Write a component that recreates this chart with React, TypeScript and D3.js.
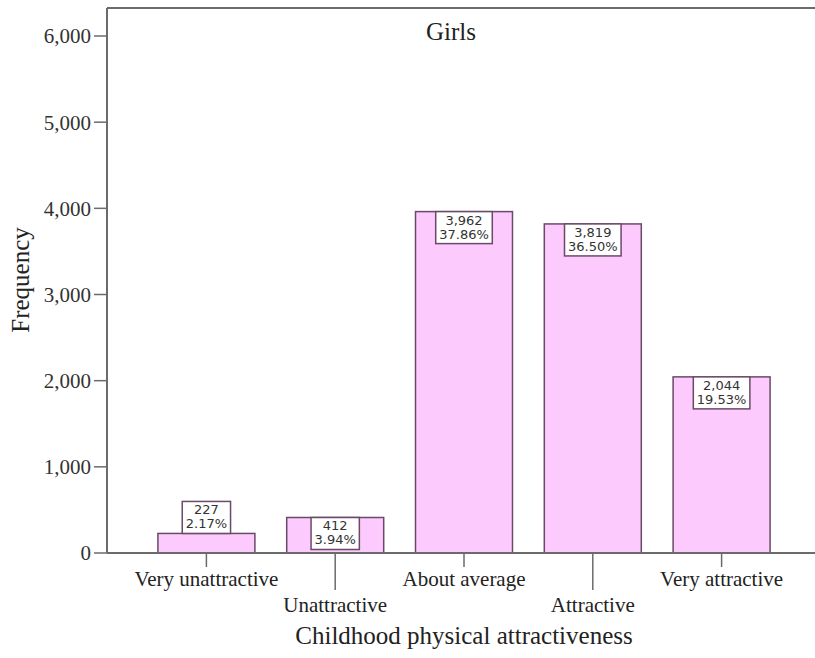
import React from "react";
import * as d3 from "d3";

const categories = ["Very unattractive", "Unattractive", "About average", "Attractive", "Very attractive"];
const frequencies = [227, 412, 3962, 3819, 2044];
const percentLabels = ["2.17%", "3.94%", "37.86%", "36.50%", "19.53%"];
const yTicks = [0, 1000, 2000, 3000, 4000, 5000, 6000];

const W = 815;
const H = 658;
const axisX = 107;
const axisY = 553;
const topY = 8;

const measureCtx: any = typeof document !== "undefined" ? document.createElement("canvas").getContext("2d") : null;
function textW(t: string, font: string) {
  if (!measureCtx) return t.length * 7;
  measureCtx.font = font;
  return measureCtx.measureText(t).width;
}

export default function App() {
  const y = d3.scaleLinear().domain([0, 6000]).range([axisY, 36]);
  const x = d3.scaleBand<string>().domain(categories).range([142, 786]).paddingInner(0.247).paddingOuter(0.1235);
  const fmt = d3.format(",");
  const serif = "'Liberation Serif', 'Times New Roman', serif";
  const boxFont = "13px 'DejaVu Sans'";
  const barFill = "#fccafc";
  const barStroke = "#6a4a68";
  const axisColor = "#6b6b6b";

  return (
    <svg width={W} height={H} style={{ position: "absolute", left: 0, top: 0, background: "#fff" }}>
      <rect x={0} y={0} width={W} height={H} fill="#fff" />
      {categories.map((c, i) => {
        const x0 = x(c)!;
        const bw = x.bandwidth();
        const top = y(frequencies[i]);
        return (
          <rect key={c} x={x0} y={top} width={bw} height={axisY - top} fill={barFill} stroke={barStroke} strokeWidth={1.5} />
        );
      })}
      <line x1={axisX} x2={W} y1={topY} y2={topY} stroke={axisColor} strokeWidth={2} />
      <line x1={axisX} x2={axisX} y1={topY} y2={axisY} stroke={axisColor} strokeWidth={2} />
      <line x1={axisX} x2={W} y1={axisY} y2={axisY} stroke={axisColor} strokeWidth={2} />
      {yTicks.map((t) => (
        <g key={t}>
          <line x1={94} x2={axisX} y1={y(t)} y2={y(t)} stroke={axisColor} strokeWidth={1.5} />
          <text x={91} y={y(t)} dy="0.35em" textAnchor="end" fontFamily={serif} fontSize={21} fill="#333">
            {fmt(t)}
          </text>
        </g>
      ))}
      {categories.map((c, i) => {
        const cx = x(c)! + x.bandwidth() / 2;
        const low = i % 2 === 1;
        return (
          <g key={c}>
            <line x1={cx} x2={cx} y1={axisY} y2={low ? 590 : 567} stroke={axisColor} strokeWidth={1.5} />
            <text x={cx} y={low ? 612 : 586} textAnchor="middle" fontFamily={serif} fontSize={21} fill="#222">
              {c}
            </text>
          </g>
        );
      })}
      {categories.map((c, i) => {
        const cx = x(c)! + x.bandwidth() / 2;
        const l1 = fmt(frequencies[i]);
        const l2 = percentLabels[i];
        const tw = Math.max(textW(l1, boxFont), textW(l2, boxFont));
        const bwid = tw + 7;
        const bh = 32;
        const top = y(frequencies[i]);
        const by = axisY - top < bh ? top - bh : top;
        return (
          <g key={c}>
            <rect x={cx - bwid / 2} y={by} width={bwid} height={bh} fill="#fff" stroke={barStroke} strokeWidth={1.5} />
            <text x={cx} y={by + 13} textAnchor="middle" fontFamily="'DejaVu Sans', sans-serif" fontSize={13} fill="#333">
              {l1}
            </text>
            <text x={cx} y={by + 27} textAnchor="middle" fontFamily="'DejaVu Sans', sans-serif" fontSize={13} fill="#333">
              {l2}
            </text>
          </g>
        );
      })}
      <text x={451} y={40} textAnchor="middle" fontFamily={serif} fontSize={25} fill="#222">Girls</text>
      <text x={464} y={644} textAnchor="middle" fontFamily={serif} fontSize={25} fill="#222">Childhood physical attractiveness</text>
      <text transform={`translate(29,280) rotate(-90)`} textAnchor="middle" fontFamily={serif} fontSize={25} fill="#222">Frequency</text>
    </svg>
  );
}
